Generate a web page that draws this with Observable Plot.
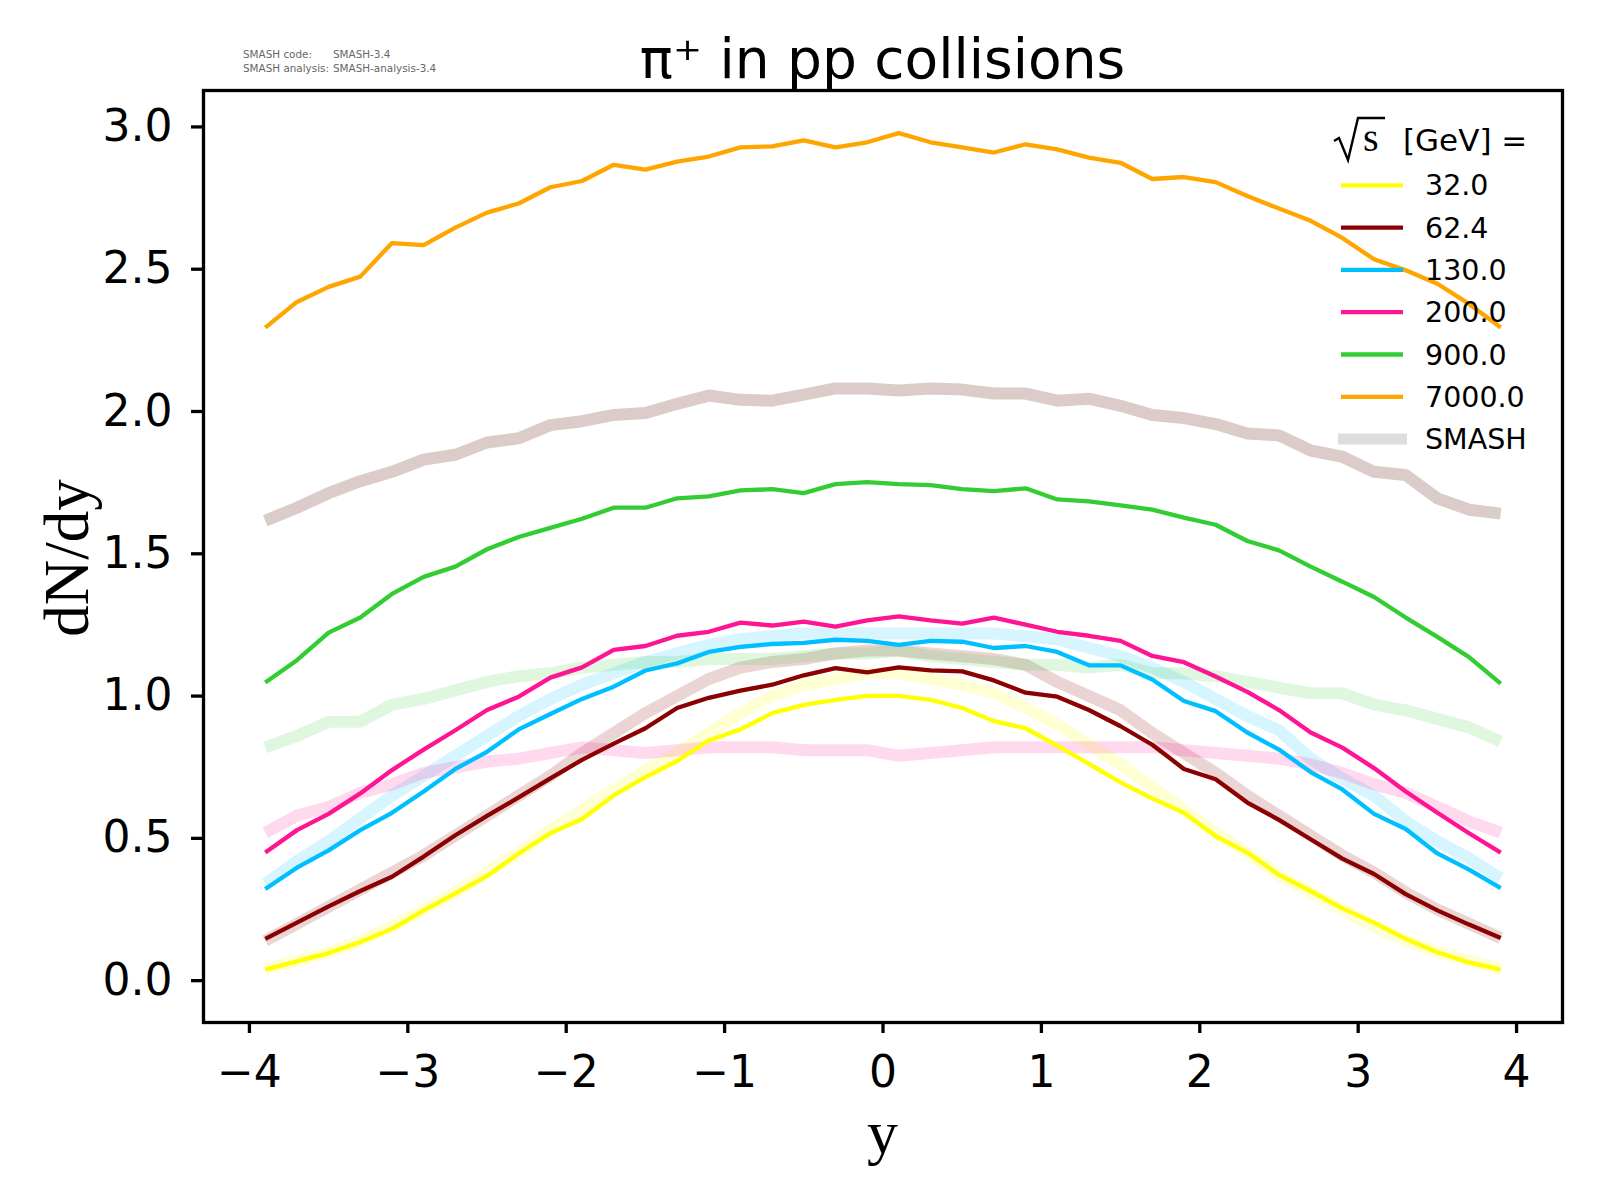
<!DOCTYPE html>
<html>
<head>
<meta charset="utf-8">
<script src="https://cdn.jsdelivr.net/npm/d3@7"></script>
<script src="https://cdn.jsdelivr.net/npm/@observablehq/plot@0.6"></script>
<style>
  html, body { margin: 0; padding: 0; background: #fff; }
  #wrap { position: relative; width: 1600px; height: 1200px; background: #fff; }
  #wrap > svg { position: absolute; left: 0; top: 0; }
</style>
</head>
<body>
<div id="wrap"></div>
<script>
// ---------- data ----------
const rapidity = [-3.9,-3.7,-3.5,-3.3,-3.1,-2.9,-2.7,-2.5,-2.3,-2.1,-1.9,-1.7,-1.5,-1.3,-1.1,-0.9,-0.7,-0.5,-0.3,-0.1,
                  0.1,0.3,0.5,0.7,0.9,1.1,1.3,1.5,1.7,1.9,2.1,2.3,2.5,2.7,2.9,3.1,3.3,3.5,3.7,3.9];

const energies = ["32.0", "62.4", "130.0", "200.0", "900.0", "7000.0"];
const colors   = ["#ffff00", "#8b0000", "#00bfff", "#ff1493", "#32cd32", "#ffa500"];
const smashColors = ["#ffff00", "#8b0000", "#00bfff", "#ff1493", "#32cd32", "#8c564b"];
const smashOpacity = [0.17, 0.17, 0.16, 0.16, 0.16, 0.3];

const data32   = [0.039,0.068,0.097,0.136,0.182,0.247,0.307,0.368,0.447,0.518,0.568,0.651,0.715,0.772,0.844,0.883,0.940,0.969,0.987,1.001,
                  1.001,0.987,0.958,0.912,0.887,0.826,0.762,0.697,0.640,0.590,0.508,0.450,0.372,0.315,0.254,0.204,0.147,0.100,0.064,0.039];
const data62   = [0.147,0.204,0.261,0.315,0.365,0.436,0.511,0.579,0.644,0.711,0.776,0.833,0.887,0.958,0.994,1.019,1.040,1.073,1.098,1.083,
                  1.101,1.090,1.087,1.055,1.012,0.998,0.951,0.894,0.829,0.744,0.708,0.626,0.565,0.497,0.429,0.375,0.304,0.247,0.197,0.150];
const data130  = [0.322,0.397,0.458,0.529,0.590,0.665,0.744,0.804,0.883,0.937,0.990,1.033,1.090,1.115,1.155,1.173,1.183,1.187,1.198,1.194,
                  1.180,1.194,1.191,1.169,1.176,1.155,1.108,1.108,1.058,0.983,0.947,0.872,0.812,0.733,0.672,0.586,0.533,0.447,0.390,0.325];
const data200  = [0.450,0.529,0.586,0.658,0.740,0.812,0.880,0.951,0.998,1.065,1.101,1.162,1.176,1.212,1.226,1.258,1.248,1.262,1.244,1.266,
                  1.280,1.266,1.255,1.276,1.251,1.226,1.212,1.194,1.141,1.119,1.069,1.015,0.951,0.872,0.819,0.747,0.665,0.590,0.518,0.450];
const data900  = [1.048,1.126,1.223,1.276,1.359,1.419,1.455,1.516,1.559,1.591,1.623,1.662,1.662,1.695,1.702,1.723,1.727,1.713,1.745,1.752,
                  1.745,1.741,1.727,1.720,1.730,1.691,1.684,1.670,1.655,1.627,1.602,1.545,1.512,1.455,1.402,1.348,1.276,1.208,1.137,1.044];
const data7000 = [2.295,2.385,2.438,2.474,2.592,2.585,2.646,2.699,2.731,2.788,2.810,2.867,2.850,2.878,2.896,2.928,2.932,2.953,2.928,2.946,
                  2.978,2.946,2.928,2.910,2.939,2.921,2.892,2.874,2.817,2.824,2.806,2.757,2.713,2.670,2.610,2.535,2.496,2.449,2.378,2.295];

const smash32   = [0.04,0.07,0.10,0.14,0.19,0.25,0.31,0.38,0.45,0.53,0.60,0.67,0.74,0.80,0.87,0.94,1.00,1.04,1.06,1.08,
                   1.08,1.06,1.04,1.01,0.96,0.90,0.83,0.76,0.68,0.60,0.52,0.45,0.37,0.31,0.25,0.19,0.14,0.10,0.07,0.04];
const smash62   = [0.14,0.20,0.26,0.32,0.38,0.44,0.51,0.58,0.65,0.72,0.80,0.87,0.94,1.00,1.06,1.10,1.12,1.13,1.15,1.16,
                   1.16,1.15,1.14,1.13,1.11,1.05,1.00,0.95,0.87,0.80,0.73,0.65,0.58,0.51,0.44,0.38,0.31,0.25,0.20,0.15];
const smash130  = [0.34,0.42,0.49,0.57,0.65,0.72,0.79,0.86,0.93,0.99,1.04,1.08,1.12,1.15,1.18,1.20,1.21,1.22,1.22,1.22,
                   1.22,1.22,1.22,1.22,1.21,1.20,1.17,1.14,1.10,1.05,0.99,0.93,0.88,0.78,0.71,0.65,0.56,0.49,0.43,0.36];
const smash200  = [0.52,0.58,0.61,0.66,0.69,0.73,0.75,0.77,0.78,0.80,0.82,0.81,0.80,0.81,0.82,0.82,0.82,0.81,0.81,0.81,
                   0.79,0.80,0.81,0.82,0.82,0.82,0.82,0.82,0.82,0.81,0.80,0.79,0.78,0.76,0.73,0.69,0.66,0.61,0.56,0.52];
const smash900  = [0.82,0.86,0.91,0.91,0.97,0.99,1.02,1.05,1.07,1.08,1.10,1.11,1.12,1.12,1.13,1.13,1.13,1.14,1.15,1.15,
                   1.16,1.14,1.13,1.12,1.11,1.11,1.10,1.11,1.08,1.08,1.07,1.05,1.03,1.01,1.01,0.97,0.95,0.92,0.89,0.84];
const smash7000 = [1.616,1.662,1.713,1.755,1.788,1.831,1.848,1.891,1.906,1.952,1.966,1.988,1.995,2.027,2.056,2.041,2.038,2.059,2.081,2.081,
                   2.074,2.081,2.077,2.063,2.063,2.038,2.045,2.020,1.988,1.977,1.956,1.923,1.916,1.863,1.841,1.788,1.777,1.695,1.655,1.641];

const dataSeries  = [data32, data62, data130, data200, data900, data7000];
const smashSeries = [smash32, smash62, smash130, smash200, smash900, smash7000];

const xTicks = [-4, -3, -2, -1, 0, 1, 2, 3, 4];
const yTicks = [0.0, 0.5, 1.0, 1.5, 2.0, 2.5, 3.0];

const titleText = "π⁺ in pp collisions";
const xLabel = "y";
const yLabel = "dN/dy";
const legendTitle = "[GeV] =";
const smashLabel = "SMASH";
const metaLines = [["SMASH code:", "SMASH-3.4"], ["SMASH analysis:", "SMASH-analysis-3.4"]];

// ---------- table ----------
const toRows = (vals) => rapidity.map((r, i) => ({r, v: vals[i]}));

const marks = [];
smashSeries.forEach((s, i) => {
  marks.push(Plot.line(toRows(s), {x: "r", y: "v", stroke: smashColors[i], strokeOpacity: smashOpacity[i],
    strokeWidth: 12, strokeLinejoin: "miter", strokeLinecap: "butt"}));
});
dataSeries.forEach((s, i) => {
  marks.push(Plot.line(toRows(s), {x: "r", y: "v", stroke: colors[i], strokeWidth: 4.3,
    strokeLinejoin: "miter", strokeLinecap: "butt"}));
});
marks.push(Plot.frame({stroke: "black", strokeWidth: 3.3}));
marks.push(Plot.axisX({ticks: xTicks, tickFormat: d3.format("d"), tickSize: 11, tickPadding: 22,
  fontSize: 44, strokeWidth: 3.3, label: null}));
marks.push(Plot.axisY({ticks: yTicks, tickFormat: d3.format(".1f"), tickSize: 12, tickPadding: 19,
  fontSize: 44, strokeWidth: 3.3, label: null}));

const chart = Plot.plot({
  width: 1600,
  height: 1200,
  marginLeft: 203,
  marginRight: 38,
  marginTop: 90,
  marginBottom: 178,
  style: {fontFamily: "DejaVu Sans", color: "black", background: "white", overflow: "visible"},
  x: {domain: [-4.29, 4.29]},
  y: {domain: [-0.147, 3.128]},
  marks
});
const wrap = document.getElementById("wrap");
wrap.appendChild(chart);

// ---------- overlay: title, labels, legend ----------
const ov = d3.select(wrap).append("svg")
  .attr("width", 1600).attr("height", 1200)
  .style("pointer-events", "none");

ov.append("text").attr("x", 882.5).attr("y", 78)
  .attr("text-anchor", "middle").attr("font-family", "DejaVu Sans").attr("font-size", 55)
  .attr("fill", "black").text(titleText);

const meta = ov.append("g").attr("font-family", "DejaVu Sans").attr("font-size", 10.4).attr("fill", "#666");
metaLines.forEach((ln, i) => {
  meta.append("text").attr("x", 243).attr("y", 58 + i * 13.5).text(ln[0]);
  meta.append("text").attr("x", 333).attr("y", 58 + i * 13.5).text(ln[1]);
});

ov.append("text").attr("x", 882.5).attr("y", 1153)
  .attr("text-anchor", "middle").attr("font-family", "Liberation Serif").attr("font-size", 62)
  .attr("fill", "black").text(xLabel);

ov.append("text").attr("transform", "translate(88,558) rotate(-90)")
  .attr("text-anchor", "middle").attr("font-family", "Liberation Serif").attr("font-size", 63)
  .attr("fill", "black").text(yLabel);

// legend
const lg = ov.append("g");
lg.append("path").attr("d", "M1334,141 L1339,138 L1348,160 L1358,118 L1385,118")
  .attr("fill", "none").attr("stroke", "black").attr("stroke-width", 2.4);
lg.append("text").attr("x", 1363).attr("y", 151).attr("font-family", "Liberation Serif")
  .attr("font-size", 40).attr("fill", "black").text("s");
lg.append("text").attr("x", 1403).attr("y", 151).attr("font-family", "DejaVu Sans")
  .attr("font-size", 31).attr("fill", "black").text(legendTitle);

const entries = energies.map((e, i) => ({label: e, color: colors[i], w: 4.3}))
  .concat([{label: smashLabel, color: "#dddddd", w: 11}]);
entries.forEach((d, i) => {
  const yy = 185.3 + 42.3 * i;
  lg.append("line").attr("x1", d.w > 5 ? 1338 : 1341).attr("x2", d.w > 5 ? 1407 : 1403)
    .attr("y1", yy).attr("y2", yy).attr("stroke", d.color).attr("stroke-width", d.w);
  lg.append("text").attr("x", 1425).attr("y", yy + 10).attr("font-family", "DejaVu Sans")
    .attr("font-size", 28.5).attr("fill", "black").text(d.label);
});
</script>
</body>
</html>
